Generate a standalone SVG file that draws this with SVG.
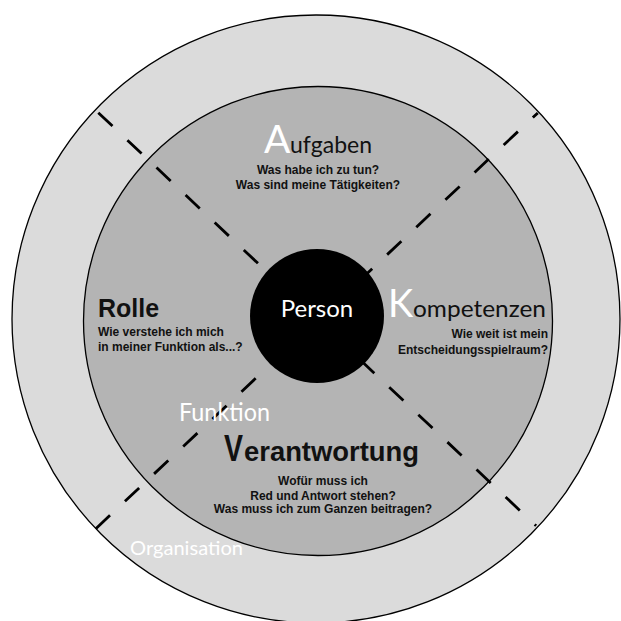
<svg xmlns="http://www.w3.org/2000/svg" width="621" height="621" viewBox="0 0 621 621">
<style>
.ring{stroke:#000;stroke-width:1.3}
.dash{fill:none;stroke:#000;stroke-width:2.8;stroke-dasharray:19.5 20.5}
.gill{font-family:Lato,"Open Sans","Noto Sans",sans-serif}
.sub{font-family:"Liberation Sans",Arial,sans-serif;font-weight:bold;font-size:12px;fill:#111}
.head{font-family:"Liberation Sans",Arial,sans-serif;font-weight:bold;fill:#111}
</style>
<rect width="621" height="621" fill="#fff"/>
<g id="organisation">
<circle class="ring" cx="316" cy="319" r="304" fill="#dbdbdb"/>
</g>
<g id="funktion">
<circle class="ring" cx="318" cy="321" r="234.5" fill="#b4b4b4"/>
</g>
<g id="connectors">
<line class="dash" x1="98.3" y1="112.7" x2="536.1" y2="525.8"/>
<line class="dash" x1="95.8" y1="528.7" x2="537.8" y2="112.9"/>
</g>
<g id="person">
<circle cx="317" cy="316" r="67" fill="#000"/>
<text class="gill" x="317" y="317" font-size="24" fill="#fff" text-anchor="middle">Person</text>
</g>
<g id="aufgaben">
<text class="gill" x="264" y="153" font-size="39" fill="#fff">A</text>
<text class="gill" x="290" y="153" font-size="23" fill="#111" textLength="82" lengthAdjust="spacingAndGlyphs">ufgaben</text>
<text class="sub" x="318" y="174" text-anchor="middle">Was habe ich zu tun?</text>
<text class="sub" x="318" y="188.5" text-anchor="middle">Was sind meine Tätigkeiten?</text>
</g>
<g id="rolle">
<text class="head" x="98" y="317" font-size="25">Rolle</text>
<text class="sub" x="98" y="336">Wie verstehe ich mich</text>
<text class="sub" x="98" y="350.5">in meiner Funktion als...?</text>
</g>
<g id="kompetenzen">
<text class="gill" x="388" y="317" font-size="38" fill="#fff">K</text>
<text class="gill" x="413" y="317" font-size="23" fill="#111" textLength="133" lengthAdjust="spacingAndGlyphs">ompetenzen</text>
<text class="sub" x="548" y="338" text-anchor="end">Wie weit ist mein</text>
<text class="sub" x="548" y="354" text-anchor="end">Entscheidungsspielraum?</text>
</g>
<g id="funktion-label">
<text class="gill" x="179" y="421" font-size="25" fill="#fff" textLength="91" lengthAdjust="spacingAndGlyphs">Funktion</text>
</g>
<g id="verantwortung">
<text class="head" x="224" y="461" font-size="36" fill="#fff" textLength="19" lengthAdjust="spacingAndGlyphs">V</text>
<text class="head" x="244" y="461" font-size="27.5" textLength="175" lengthAdjust="spacingAndGlyphs">erantwortung</text>
<text class="sub" x="323" y="485" text-anchor="middle">Wofür muss ich</text>
<text class="sub" x="323" y="499.5" text-anchor="middle">Red und Antwort stehen?</text>
<text class="sub" x="323" y="513" text-anchor="middle">Was muss ich zum Ganzen beitragen?</text>
</g>
<g id="organisation-label">
<text class="gill" x="130" y="555" font-size="20" fill="#fff" textLength="113" lengthAdjust="spacingAndGlyphs">Organisation</text>
</g>
</svg>
